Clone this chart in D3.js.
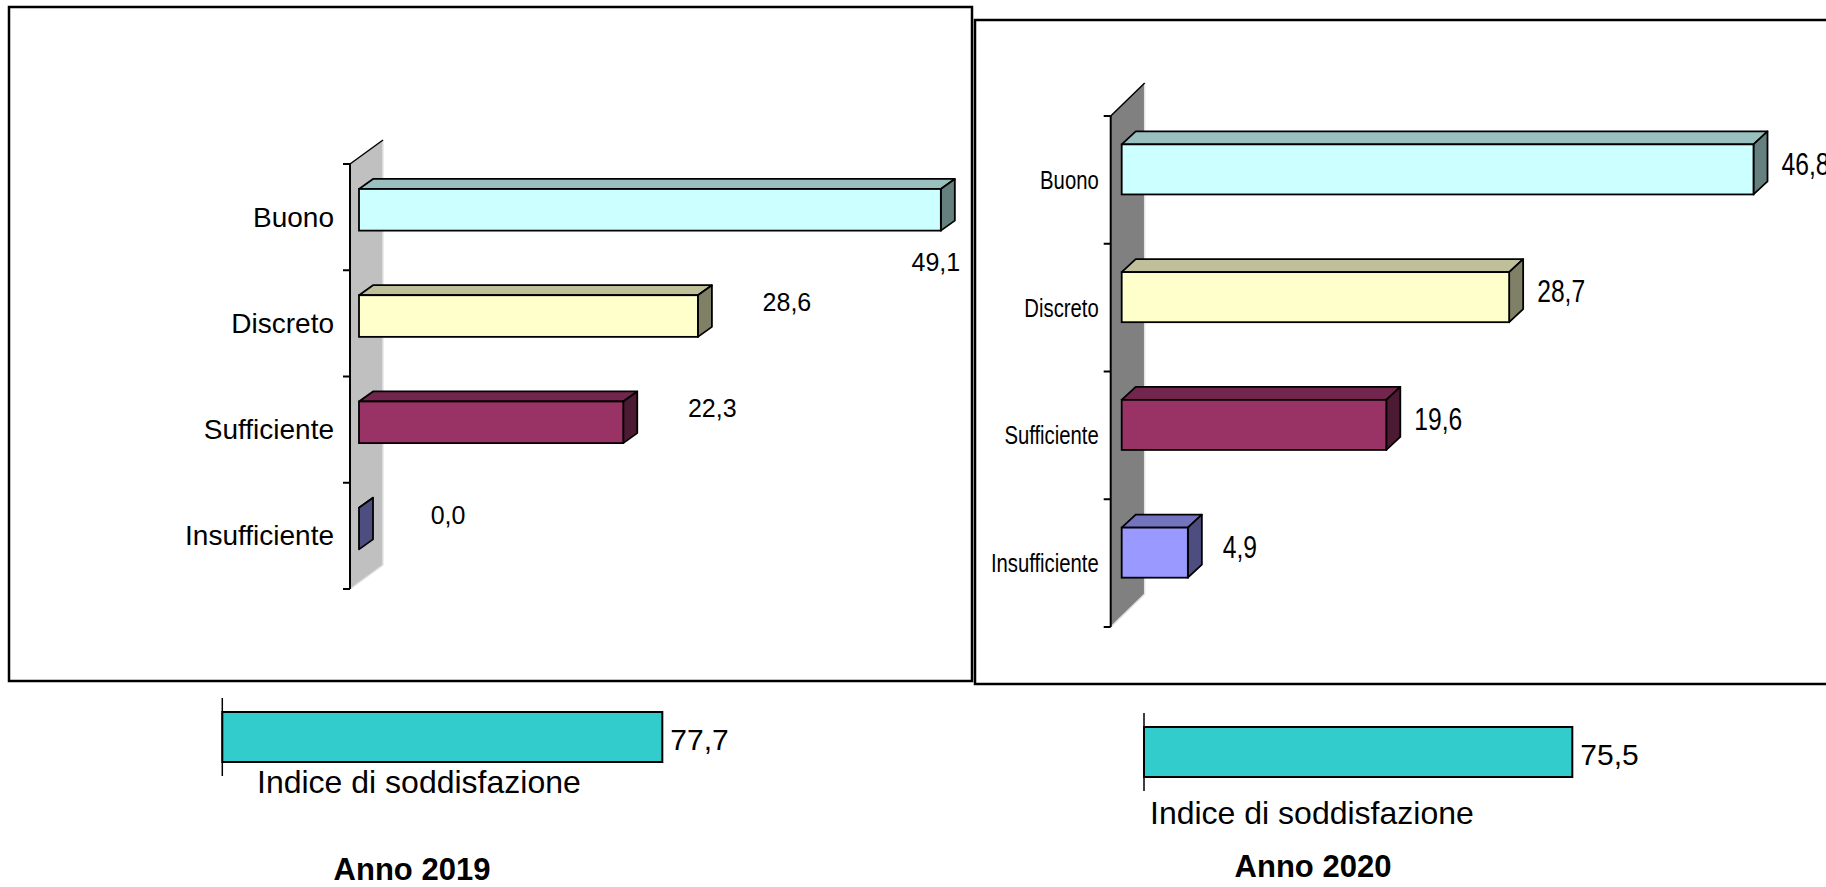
<html>
<head>
<meta charset="utf-8">
<style>
  body { margin: 0; background: #fff; }
  svg { display: block; font-family: "Liberation Sans", Arial, sans-serif; }
</style>
<script src="https://cdn.jsdelivr.net/npm/d3@7"></script>
</head>
<body>
<div class="chart"></div>
<script type="text/javascript">

  // ---- data ----
  var categories = ["Buono", "Discreto", "Sufficiente", "Insufficiente"];
  var values2019 = [49.1, 28.6, 22.3, 0.0];
  var values2020 = [46.8, 28.7, 19.6, 4.9];
  var barColors = ["#CCFFFF", "#FFFFCC", "#993366", "#9999FF"];
  var indexName = "Indice di soddisfazione";
  var index2019 = 77.7;
  var index2020 = 75.5;
  var yearTitles = ["Anno 2019", "Anno 2020"];

  var W = 1826, H = 887;
  var it = d3.formatLocale({decimal: ",", thousands: ".", grouping: [3], currency: ["", "€"]});
  var fmt = it.format(".1f");

  function shade(c, k) {
    var r = d3.rgb(c);
    return d3.rgb(r.r * k, r.g * k, r.b * k).formatHex();
  }

  var svg = d3.select(".chart").append("svg")
      .attr("width", W).attr("height", H);

  // two panels, each its own layout
  var panels = [
    {
      values: values2019, index: index2019, title: yearTitles[0],
      box: [9, 7, 963, 674],
      axisX: 350, axisTop: 164, axisBottom: 589,
      wall: "#c0c0c0", wallDx: 33, wallDy: -24,
      x0: 359, pxPerUnit: 11.85,
      barDx: 14, barDy: -10, barOff: 0.235, barH: 0.392,
      catSize: 28, catSx: 1, catGap: 16,
      valSize: 25, valSx: 1, valOffX: 89, valOffY: -14, below: true,
      idxAxisX: 222.3, idxTop: 698, idxPx: 5.663, idxLabelX: 257, idxLabelY: 793,
      idxSize: 30, titleX: 412, titleY: 880
    },
    {
      values: values2020, index: index2020, title: yearTitles[1],
      box: [975, 20, 860, 664],
      axisX: 1110.7, axisTop: 116, axisBottom: 627,
      wall: "#808080", wallDx: 34, wallDy: -33,
      x0: 1121.7, pxPerUnit: 13.5,
      barDx: 14, barDy: -13, barOff: 0.222, barH: 0.392,
      catSize: 26, catSx: 0.78, catGap: 12,
      valSize: 32, valSx: 0.77, valOffX: 52, valOffY: -6, below: false,
      idxAxisX: 1144, idxTop: 713, idxPx: 5.673, idxLabelX: 1150, idxLabelY: 824,
      idxSize: 30, titleX: 1313, titleY: 877
    }
  ];

  function addText(g, x, y, txt, size, sx, anchor, weight) {
    return g.append("text")
        .attr("transform", "translate(" + x + "," + y + ") scale(" + sx + ",1)")
        .attr("text-anchor", anchor)
        .attr("dominant-baseline", "central")
        .attr("font-size", size + "px")
        .attr("font-weight", weight || "normal")
        .attr("fill", "#000")
        .text(txt);
  }

  panels.forEach(function (p) {
    var g = svg.append("g");

    // frame
    g.append("rect")
        .attr("x", p.box[0]).attr("y", p.box[1])
        .attr("width", p.box[2]).attr("height", p.box[3])
        .attr("fill", "none").attr("stroke", "#000").attr("stroke-width", 2.5);

    var x = d3.scaleLinear().domain([0, 50]).range([p.x0, p.x0 + 50 * p.pxPerUnit]);
    var y = d3.scaleBand().domain(categories).range([p.axisTop, p.axisBottom]);
    var bw = y.bandwidth();

    // 3d side wall
    var wallPts = [[p.axisX, p.axisTop], [p.axisX + p.wallDx, p.axisTop + p.wallDy],
                   [p.axisX + p.wallDx, p.axisBottom + p.wallDy], [p.axisX, p.axisBottom]];
    g.append("polygon").attr("points", wallPts.join(" "))
        .attr("fill", p.wall).attr("stroke", "none");
    g.append("line")
        .attr("x1", p.axisX + p.wallDx).attr("y1", p.axisTop + p.wallDy)
        .attr("x2", p.axisX + p.wallDx).attr("y2", p.axisBottom + p.wallDy)
        .attr("stroke", "#e4e4e4").attr("stroke-width", 1.5);
    g.append("line")
        .attr("x1", p.axisX).attr("y1", p.axisBottom)
        .attr("x2", p.axisX + p.wallDx).attr("y2", p.axisBottom + p.wallDy)
        .attr("stroke", "#e0e0e0").attr("stroke-width", 1.5);
    g.append("line")
        .attr("x1", p.axisX).attr("y1", p.axisTop)
        .attr("x2", p.axisX + p.wallDx).attr("y2", p.axisTop + p.wallDy)
        .attr("stroke", "#000").attr("stroke-width", 1.5);

    // category axis + ticks at band edges
    g.append("line")
        .attr("x1", p.axisX).attr("y1", p.axisTop)
        .attr("x2", p.axisX).attr("y2", p.axisBottom)
        .attr("stroke", "#000").attr("stroke-width", 2);
    var edges = categories.map(function (c) { return y(c); }).concat([p.axisBottom]);
    g.selectAll("line.tick").data(edges).enter().append("line")
        .attr("class", "tick")
        .attr("x1", p.axisX - 7).attr("x2", p.axisX)
        .attr("y1", function (d) { return d; }).attr("y2", function (d) { return d; })
        .attr("stroke", "#000").attr("stroke-width", 2);

    // category labels
    categories.forEach(function (c) {
      addText(g, p.axisX - p.catGap, y(c) + bw / 2, c, p.catSize, p.catSx, "end");
    });

    // 3d bars
    var rows = categories.map(function (c, i) {
      var top = y(c) + bw * p.barOff;
      return { c: c, v: p.values[i], color: barColors[i], top: top, h: bw * p.barH,
               x0: x(0), x1: x(p.values[i]) };
    });
    var bars = g.selectAll("g.bar").data(rows).enter().append("g").attr("class", "bar");
    bars.append("polygon")
        .attr("points", function (d) {
          return [[d.x0, d.top], [d.x0 + p.barDx, d.top + p.barDy],
                  [d.x1 + p.barDx, d.top + p.barDy], [d.x1, d.top]].join(" ");
        })
        .attr("fill", function (d) { return shade(d.color, 0.75); })
        .attr("stroke", "#000").attr("stroke-width", 1.8).attr("stroke-linejoin", "round");
    bars.append("polygon")
        .attr("points", function (d) {
          return [[d.x1, d.top], [d.x1 + p.barDx, d.top + p.barDy],
                  [d.x1 + p.barDx, d.top + d.h + p.barDy], [d.x1, d.top + d.h]].join(" ");
        })
        .attr("fill", function (d) { return shade(d.color, 0.5); })
        .attr("stroke", "#000").attr("stroke-width", 1.8).attr("stroke-linejoin", "round");
    bars.filter(function (d) { return d.v > 0; }).append("rect")
        .attr("x", function (d) { return d.x0; })
        .attr("y", function (d) { return d.top; })
        .attr("width", function (d) { return d.x1 - d.x0; })
        .attr("height", function (d) { return d.h; })
        .attr("fill", function (d) { return d.color; })
        .attr("stroke", "#000").attr("stroke-width", 1.8);

    // value labels: right of the bar, or below its end when there is no room
    var limit = p.box[0] + p.box[2] - 10;
    rows.forEach(function (d) {
      var cx = d.x1 + p.valOffX, cy = d.top + d.h / 2 + p.valOffY;
      var halfW = p.valSize * 0.97 * p.valSx;
      if (p.below && cx + halfW > limit) {
        cx = d.x1 - 5;
        cy = d.top + d.h + 31;
      }
      addText(g, cx, cy, fmt(d.v), p.valSize, p.valSx, "middle");
    });

    // satisfaction index bar
    var xi = d3.scaleLinear().domain([0, 100]).range([p.idxAxisX, p.idxAxisX + 100 * p.idxPx]);
    var ib = d3.scaleBand().domain([indexName]).range([p.idxTop, p.idxTop + 78]).paddingInner(0).paddingOuter(0.28);
    g.append("line")
        .attr("x1", p.idxAxisX).attr("x2", p.idxAxisX)
        .attr("y1", p.idxTop).attr("y2", p.idxTop + 78)
        .attr("stroke", "#000").attr("stroke-width", 1.5);
    g.append("rect")
        .attr("x", xi(0)).attr("y", ib(indexName))
        .attr("width", xi(p.index) - xi(0)).attr("height", ib.bandwidth())
        .attr("fill", "#33CCCC").attr("stroke", "#000").attr("stroke-width", 2);
    addText(g, xi(p.index) + 8, ib(indexName) + ib.bandwidth() / 2 + 2, fmt(p.index), p.idxSize, 1, "start");
    g.append("text")
        .attr("x", p.idxLabelX).attr("y", p.idxLabelY)
        .attr("font-size", "32px").attr("fill", "#000")
        .text(indexName);

    // year title
    g.append("text")
        .attr("x", p.titleX).attr("y", p.titleY)
        .attr("text-anchor", "middle")
        .attr("font-size", "31px").attr("font-weight", "bold").attr("fill", "#000")
        .text(p.title);
  });
</script>
</body>
</html>
